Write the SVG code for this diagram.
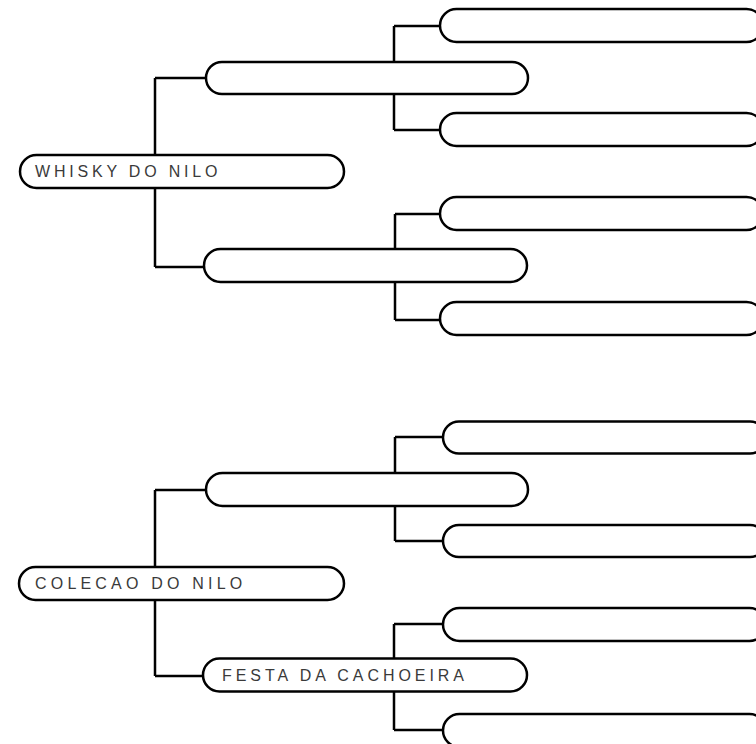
<svg xmlns="http://www.w3.org/2000/svg" width="756" height="744" viewBox="0 0 756 744">
<style>
.n{fill:#fff;stroke:#000;stroke-width:2.5}
.c{fill:none;stroke:#000;stroke-width:2.5}
.t{font-family:"Liberation Sans",Arial,sans-serif;font-size:16px;fill:#3a3a3a}
</style>
<rect width="756" height="744" fill="#fff"/>
<g id="connectors">
<path class="c" d="M155 78V267M155 78H206M155 267H204"/>
<path class="c" d="M394 26V130M394 26H440M394 130H440"/>
<path class="c" d="M395 214V320M395 214H440M395 320H440"/>
<path class="c" d="M155 490V676M155 490H206M155 676H203"/>
<path class="c" d="M395 437V541M395 437H443M395 541H443"/>
<path class="c" d="M394 624V730M394 624H443M394 730H443"/>
</g>
<g id="root1"><rect class="n" x="20" y="155" width="324" height="33" rx="16.5"/><text class="t" x="35" y="177" letter-spacing="3.8">WHISKY DO NILO</text></g>
<g id="child1"><rect class="n" x="206" y="62" width="322" height="32" rx="16"/></g>
<g id="gc1"><rect class="n" x="440" y="9" width="323" height="33" rx="16.5"/></g>
<g id="gc2"><rect class="n" x="440" y="113" width="323" height="33" rx="16.5"/></g>
<g id="child2"><rect class="n" x="204" y="249" width="323" height="33" rx="16.5"/></g>
<g id="gc3"><rect class="n" x="440" y="197" width="323" height="33" rx="16.5"/></g>
<g id="gc4"><rect class="n" x="440" y="302" width="323" height="33" rx="16.5"/></g>
<g id="root2"><rect class="n" x="19" y="567" width="325" height="33" rx="16.5"/><text class="t" x="35" y="589" letter-spacing="4.2">COLECAO DO NILO</text></g>
<g id="child3"><rect class="n" x="206" y="473" width="322" height="33" rx="16.5"/></g>
<g id="gc5"><rect class="n" x="443" y="421.5" width="323" height="32" rx="16"/></g>
<g id="gc6"><rect class="n" x="443" y="525" width="323" height="32" rx="16"/></g>
<g id="child4"><rect class="n" x="203" y="658.5" width="324" height="33" rx="16.5"/><text class="t" x="222" y="681" letter-spacing="3.95">FESTA DA CACHOEIRA</text></g>
<g id="gc7"><rect class="n" x="443" y="608" width="323" height="33" rx="16.5"/></g>
<g id="gc8"><rect class="n" x="443" y="714" width="323" height="33" rx="16.5"/></g>
</svg>
